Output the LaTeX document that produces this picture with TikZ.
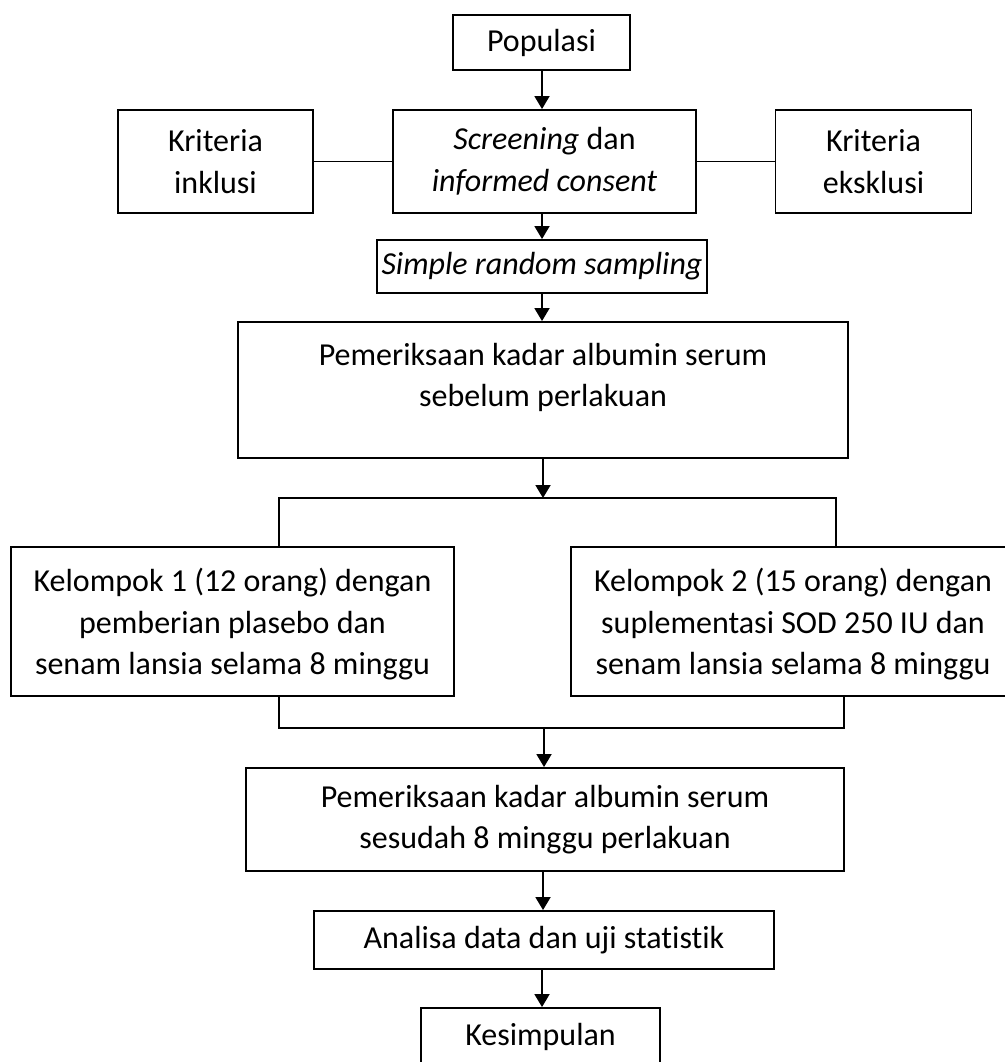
\documentclass[tikz,border=0pt]{standalone}
\usepackage{fontspec}
\setmainfont{Carlito}[Ligatures={NoCommon}]
\usetikzlibrary{arrows.meta}
\begin{document}
\begin{tikzpicture}[x=1pt,y=-1pt,
  box/.style={draw, line width=1.9pt, inner sep=0pt, align=center,
    font=\fontsize{32}{41.5}\selectfont},
  conn/.style={line width=1.9pt},
  arr/.style={line width=1.9pt, -{Triangle[width=15pt,length=13pt]}}]
\useasboundingbox (0,0) rectangle (1004,1062);
\fill[white] (0,0) rectangle (1004,1062);
% boxes
\node[box, minimum width=177pt, minimum height=55pt] (pop) at (541.5,42.5) {Populasi};
\node[box, minimum width=303pt, minimum height=103pt] (scr) at (544.5,161.5) {\textit{Screening} dan\\\textit{informed consent}};
\node[box, minimum width=195pt, minimum height=103pt] (inc) at (215.5,161.5) {Kriteria\\inklusi};
\node[box, minimum width=196pt, minimum height=103pt] (exc) at (873.5,161.5) {Kriteria\\eksklusi};
\node[box, minimum width=330pt, minimum height=53pt] (srs) at (542,266.5) {\textit{Simple random sampling}};
\node[box, minimum width=610pt, minimum height=136pt, text depth=30pt] (pem1) at (543,390) {Pemeriksaan kadar albumin serum\\sebelum perlakuan};
\node[box, minimum width=443pt, minimum height=149pt, text depth=0pt] (k1) at (232.5,621.5) {Kelompok 1 (12 orang) dengan\\pemberian plasebo dan\\senam lansia selama 8 minggu};
\node[box, minimum width=444pt, minimum height=149pt, text depth=0pt] (k2) at (793,621.5) {Kelompok 2 (15 orang) dengan\\suplementasi SOD 250 IU dan\\senam lansia selama 8 minggu};
\node[box, minimum width=598pt, minimum height=103pt] (pem2) at (545,819.5) {Pemeriksaan kadar albumin serum\\sesudah 8 minggu perlakuan};
\node[box, minimum width=460pt, minimum height=58pt] (ana) at (544,940) {Analisa data dan uji statistik};
\node[box, minimum width=239pt, minimum height=58pt] (kes) at (540.5,1037) {Kesimpulan};
% bracket points
\coordinate (b1) at (543,498);
\coordinate (b1l) at (279,498);
\coordinate (b1r) at (836,498);
\coordinate (b2) at (544,728);
\coordinate (b2l) at (279,728);
\coordinate (b2r) at (844,728);
% connectors
\draw[arr] (pop.south -| 542,0) -- (scr.north -| 542,0);
\draw[conn] (inc.east) -- (scr.west);
\draw[conn] (scr.east) -- (exc.west);
\draw[arr] (scr.south -| 542,0) -- (srs.north -| 542,0);
\draw[arr] (srs.south -| 542,0) -- (pem1.north -| 542,0);
\draw[arr] (pem1.south -| b1) -- (b1);
\draw[conn] (k1.north -| b1l) -- (b1l) -- (b1r) -- (k2.north -| b1r);
\draw[conn] (k1.south -| b2l) -- (b2l) -- (b2r) -- (k2.south -| b2r);
\draw[arr] (b2) -- (pem2.north -| b2);
\draw[arr] (pem2.south -| 543,0) -- (ana.north -| 543,0);
\draw[arr] (ana.south -| 542,0) -- (kes.north -| 542,0);
\end{tikzpicture}
\end{document}
